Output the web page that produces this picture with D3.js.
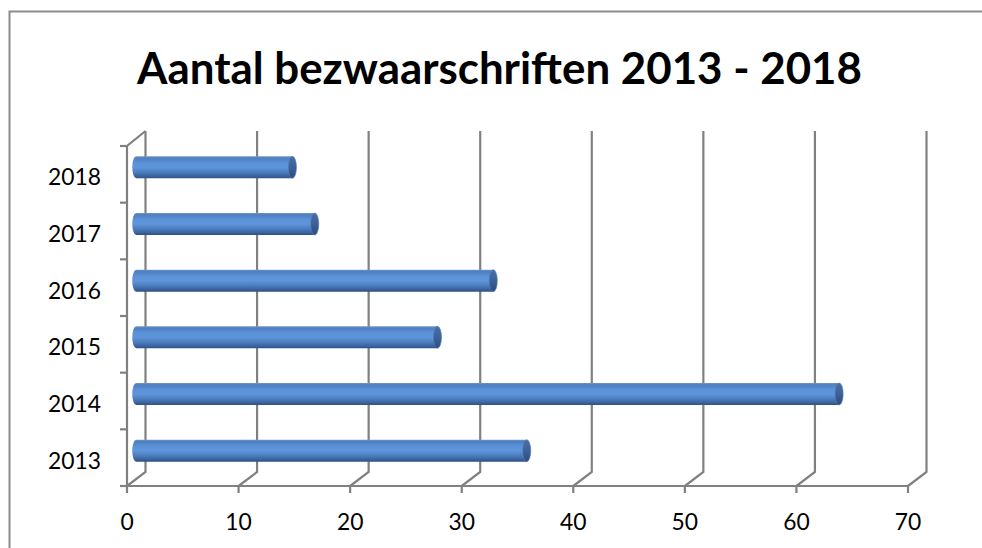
<!DOCTYPE html>
<html>
<head>
<meta charset="utf-8">
<script src="https://cdn.jsdelivr.net/npm/d3@7"></script>
<style>
  html, body { margin: 0; padding: 0; background: #fff; }
  svg { display: block; }
</style>
</head>
<body>
<svg id="chart" width="982" height="548"></svg>
<script>
const titleText = "Aantal bezwaarschriften 2013 - 2018";
const categories = ["2013", "2014", "2015", "2016", "2017", "2018"];
const values = [35, 63, 27, 32, 16, 14];
const xTicks = [0, 10, 20, 30, 40, 50, 60, 70];

const svg = d3.select("#chart");
const W = 982, H = 548;
const gridColor = "#808080";
const fontFam = "Lato, 'Open Sans', 'DejaVu Sans', sans-serif";

// outer border (top and left visible)
svg.append("path")
  .attr("d", `M9.5,${H} L9.5,11.5 L${W},11.5`)
  .attr("fill", "none").attr("stroke", "#8c8c8c").attr("stroke-width", 2);

// Front plane scales
const x = d3.scaleLinear().domain([0, 70]).range([127, 908]);
const y = d3.scaleBand().domain(categories).range([486, 146]).padding(0);
const dx = 18.5, dy = -14;   // depth offset (front -> back)

const g = svg.append("g");

// back-wall gridlines + floor diagonals
xTicks.forEach(t => {
  const fx = x(t);
  g.append("path")
    .attr("d", `M${fx},486 L${fx+dx},${486+dy} L${fx+dx},${146+dy - 1}`)
    .attr("fill", "none").attr("stroke", gridColor).attr("stroke-width", 2.2);
});
// left side wall
g.append("path")
  .attr("d", `M${x(0)},486 L${x(0)},146 L${x(0)+dx},${146+dy - 1}`)
  .attr("fill", "none").attr("stroke", gridColor).attr("stroke-width", 2.2);
// floor front edge
g.append("line")
  .attr("x1", x(0)).attr("x2", x(70)).attr("y1", 486).attr("y2", 486)
  .attr("stroke", gridColor).attr("stroke-width", 2.2);
// x ticks
xTicks.forEach(t => {
  g.append("line").attr("x1", x(t)).attr("x2", x(t)).attr("y1", 486).attr("y2", 493)
    .attr("stroke", gridColor).attr("stroke-width", 2.2);
});
// y ticks (band boundaries)
const bounds = categories.map(c => y(c)).concat([y(categories[0]) + y.bandwidth()]);
bounds.forEach(b => {
  g.append("line").attr("x1", x(0) - 7).attr("x2", x(0)).attr("y1", b).attr("y2", b)
    .attr("stroke", gridColor).attr("stroke-width", 2.2);
});

// gradients
const defs = svg.append("defs");
const grad = defs.append("linearGradient").attr("id", "cyl").attr("x1", 0).attr("y1", 0).attr("x2", 0).attr("y2", 1);
[[0, "#7396c8"], [0.08, "#4e7fc1"], [0.3, "#5b91d8"], [0.5, "#5f95da"], [0.72, "#4c7ebf"], [0.88, "#3c66a2"], [1, "#2d5083"]]
  .forEach(([o, c]) => grad.append("stop").attr("offset", o).attr("stop-color", c));
const capGrad = defs.append("linearGradient").attr("id", "cap").attr("x1", 0).attr("y1", 0).attr("x2", 0).attr("y2", 1);
[[0, "#4a6fa5"], [0.5, "#3b6199"], [1, "#2c4c7c"]]
  .forEach(([o, c]) => capGrad.append("stop").attr("offset", o).attr("stop-color", c));

// bars (cylinders) at mid-depth
const barH = 22, rx = 4;
const mx = v => x(v) + dx / 2;
categories.forEach((c, i) => {
  const v = values[i];
  const cy = y(c) + y.bandwidth() / 2 + dy / 2;
  const x0 = mx(0), x1 = mx(v);
  const top = cy - barH / 2, bot = cy + barH / 2;
  g.append("path")
    .attr("d", `M${x1},${top} L${x0},${top} A${rx},${barH/2} 0 0 0 ${x0},${bot} L${x1},${bot} Z`)
    .attr("fill", "url(#cyl)");
  g.append("ellipse")
    .attr("cx", x1).attr("cy", cy).attr("rx", rx).attr("ry", barH / 2)
    .attr("fill", "url(#cap)").attr("stroke", "#5479ad").attr("stroke-width", 0.6);
});

function fitText(sel, target) {
  const w = sel.node().getComputedTextLength();
  const fs = parseFloat(sel.attr("font-size"));
  sel.attr("font-size", fs * target / w);
}

// label font size so that "2018" is ~53px wide
const ref = svg.append("text").attr("font-family", fontFam).attr("font-size", 20).text("2018");
const fsLab = 20 * 53 / ref.node().getComputedTextLength();
ref.remove();

// y labels
categories.forEach(c => {
  svg.append("text")
    .attr("x", 101).attr("y", y(c) + y.bandwidth() / 2 + 2)
    .attr("text-anchor", "end").attr("dominant-baseline", "central")
    .attr("font-family", fontFam).attr("font-size", fsLab).attr("fill", "#000")
    .text(c);
});
// x labels
xTicks.forEach(tk => {
  svg.append("text")
    .attr("x", x(tk)).attr("y", 521)
    .attr("text-anchor", "middle").attr("dominant-baseline", "central")
    .attr("font-family", fontFam).attr("font-size", fsLab).attr("fill", "#000")
    .text(tk);
});

// title
const title = svg.append("text")
  .attr("x", 499.5).attr("y", 67)
  .attr("text-anchor", "middle").attr("dominant-baseline", "central")
  .attr("font-family", fontFam).attr("font-weight", "bold").attr("font-size", 40).attr("fill", "#000")
  .text(titleText);
fitText(title, 725);
</script>
</body>
</html>
